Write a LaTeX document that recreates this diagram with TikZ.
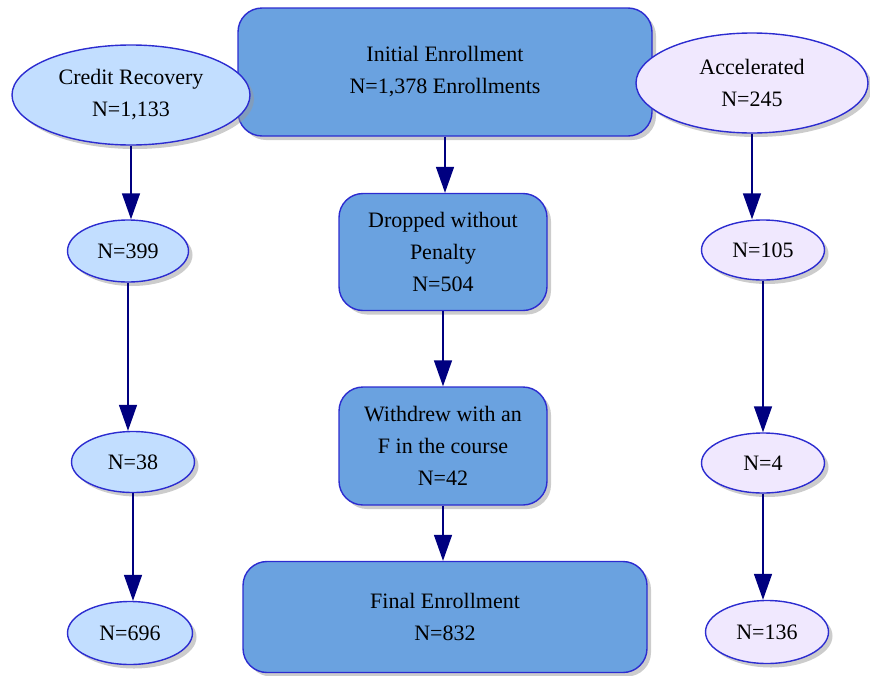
\documentclass[tikz,border=0pt]{standalone}
\usepackage{fontspec}
\setmainfont{Liberation Serif}
\usetikzlibrary{arrows.meta,positioning,shapes.geometric,shadows}
\definecolor{edgeblue}{HTML}{2C2CD0}
\definecolor{arrownavy}{HTML}{000080}
\definecolor{boxfill}{HTML}{6AA2E0}
\definecolor{crfill}{HTML}{C2DEFF}
\definecolor{accfill}{HTML}{F0E8FE}

\begin{document}
\begin{tikzpicture}[x=1pt, y=-1pt,
  box/.style={draw=edgeblue, line width=1.4pt, rounded corners=24pt, fill=boxfill, align=center, inner sep=0pt, font=\fontsize{22}{32}\selectfont, drop shadow={shadow xshift=4pt, shadow yshift=-4pt, fill=black!40}},
  oval/.style={draw=edgeblue, line width=1.4pt, ellipse, inner sep=0pt, align=center, font=\fontsize{22}{32}\selectfont, drop shadow={shadow xshift=4pt, shadow yshift=-4pt, fill=black!40}},
  arr/.style={-{Triangle[length=26pt, width=18pt]}, line width=1.5pt, arrownavy}
]
  \useasboundingbox (0,0) rectangle (870,675);

  % centre column
  \node[box, minimum width=414pt, minimum height=128pt] (init) at (445,72) {Initial Enrollment\\N=1,378 Enrollments};
  \node[box, minimum width=208pt, minimum height=117pt] (drop) at (443,252) {Dropped without\\Penalty\\N=504};
  \node[box, minimum width=208pt, minimum height=118pt] (wdr) at (443,446) {Withdrew with an\\F in the course\\N=42};
  \node[box, minimum width=404pt, minimum height=111pt] (final) at (445,617) {Final Enrollment\\N=832};

  % credit recovery
  \node[oval, fill=crfill, minimum width=238pt, minimum height=100pt] (cr) at (131,95) {Credit Recovery\\N=1,133};
  \node[oval, fill=crfill, minimum width=121pt, minimum height=62pt] (cr399) at (128,251) {N=399};
  \node[oval, fill=crfill, minimum width=123pt, minimum height=61pt] (cr38) at (133,462) {N=38};
  \node[oval, fill=crfill, minimum width=125pt, minimum height=63pt] (cr696) at (130,633) {N=696};

  % accelerated
  \node[oval, fill=accfill, minimum width=232pt, minimum height=100pt] (acc) at (752,83) {Accelerated\\N=245};
  \node[oval, fill=accfill, minimum width=123pt, minimum height=60pt] (acc105) at (763,250) {N=105};
  \node[oval, fill=accfill, minimum width=123pt, minimum height=60pt] (acc4) at (763,463) {N=4};
  \node[oval, fill=accfill, minimum width=123pt, minimum height=63pt] (acc136) at (767,632) {N=136};

  \draw[arr] (init.south) -- (init.south |- drop.north);
  \draw[arr] (drop.south) -- (drop.south |- wdr.north);
  \draw[arr] (wdr.south) -- (wdr.south |- final.north);

  \draw[arr] (cr.south) -- (cr.south |- cr399.north);
  \draw[arr] (cr399.south) -- (cr399.south |- cr38.north);
  \draw[arr] (cr38.south) -- (cr38.south |- cr696.north);

  \draw[arr] (acc.south) -- (acc.south |- acc105.north);
  \draw[arr] (acc105.south) -- (acc105.south |- acc4.north);
  \draw[arr] (acc4.south) -- (acc4.south |- acc136.north);
\end{tikzpicture}
\end{document}
